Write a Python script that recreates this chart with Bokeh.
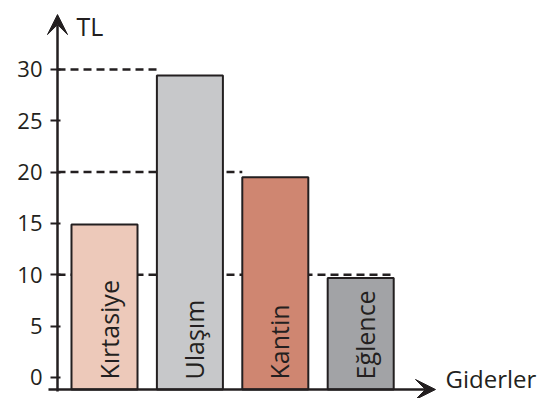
import numpy as np
from bokeh.plotting import figure
from bokeh.models import Range1d, FixedTicker, Arrow, VeeHead, Label
from bokeh.core.properties import value
from bokeh.embed import file_html
from bokeh.resources import INLINE

# ---- data ----
categories = ["Kırtasiye", "Ulaşım", "Kantin", "Eğlence"]
amounts = [14.9, 29.4, 19.5, 9.7]
bar_colors = ["#edc9ba", "#c7c8ca", "#cf8671", "#a2a3a6"]
y_ticks = [0, 5, 10, 15, 20, 25, 30]
guide_levels = [30, 20, 10]
guide_bar = [1, 2, 3]      # index of the bar each dashed guide runs to
guide_side = [-1, -1, 1]   # -1: to its left edge, +1: to its right edge
y_title = "TL"
x_title = "Giderler"

INK = "#231f20"
xs = np.arange(1, len(categories) + 1)
bar_w = 0.773
axis_y = -1.17
x0 = 0.4497

p = figure(width=555, height=398,
           x_range=Range1d(-0.2178, 6.281), y_range=Range1d(-2.045, 36.71),
           output_backend="svg", toolbar_location=None,
           x_axis_location=None,
           min_border_left=0, min_border_right=0,
           min_border_top=0, min_border_bottom=0)
p.outline_line_color = None
p.xgrid.visible = False
p.ygrid.visible = False
p.background_fill_color = "white"
p.border_fill_color = "white"

ax = p.yaxis[0]
ax.fixed_location = x0
ax.ticker = FixedTicker(ticks=y_ticks)
ax.axis_line_color = None
ax.major_tick_line_color = INK
ax.major_tick_line_width = 2
ax.major_tick_in = 3
ax.major_tick_out = 7
ax.minor_tick_line_color = None
ax.major_label_text_font = "Open Sans"
ax.major_label_text_font_size = "22px"
ax.major_label_text_color = INK
ax.major_label_standoff = 8

# dashed guides (behind bars)
gx1 = [xs[i] + s * bar_w / 2 for i, s in zip(guide_bar, guide_side)]
p.segment(x0=[x0] * len(guide_levels), y0=guide_levels, x1=gx1, y1=guide_levels,
          line_color=INK, line_width=2.5, line_dash="8 5")

# bars
p.vbar(x=xs, top=amounts, bottom=axis_y, width=bar_w,
       fill_color=bar_colors, line_color=INK, line_width=2)

# rotated category labels
p.text(x=xs, y=[0] * len(xs), text=categories, angle=np.pi / 2,
       text_align="left", text_baseline="alphabetic",
       x_offset=4, y_offset=2,
       text_font=value("Open Sans"), text_font_size="25px", text_color=INK)

# axes with arrows
p.add_layout(Arrow(x_start=x0, y_start=-1.36, x_end=x0, y_end=35.34,
                   line_color=INK, line_width=2.5,
                   end=VeeHead(size=20, fill_color=INK, line_color=INK, line_width=1)))
p.add_layout(Arrow(x_start=0.344, y_start=axis_y, x_end=4.876, y_end=axis_y,
                   line_color=INK, line_width=2.5,
                   end=VeeHead(size=20, fill_color=INK, line_color=INK, line_width=1)))

p.add_layout(Label(x=0.672, y=34.27, text=y_title, text_font="Open Sans",
                   text_font_size="25px", text_color=INK, text_baseline="alphabetic"))
p.add_layout(Label(x=4.993, y=-0.1, text=x_title, text_font="Open Sans",
                   text_font_size="24px", text_color=INK, text_baseline="alphabetic"))

open("out.html", "w").write(file_html(p, INLINE))
